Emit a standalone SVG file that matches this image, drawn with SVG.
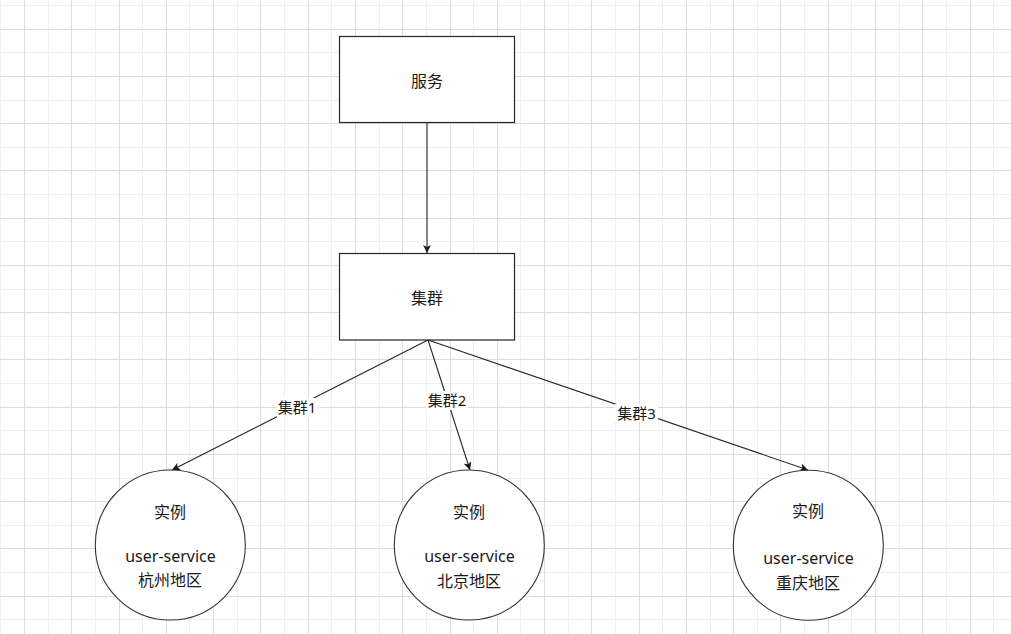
<svg xmlns="http://www.w3.org/2000/svg" width="1011" height="634" viewBox="0 0 1011 634">
<style>
.gl{stroke:#efefef;stroke-width:1;fill:none}
.gd{stroke:#dcdcdc;stroke-width:1;fill:none}
.box{fill:#fff;stroke:#262626;stroke-width:1.2}
.circ{fill:#fff;stroke:#333;stroke-width:1.1}
.t{font-family:"Noto Sans","Noto Sans CJK SC",sans-serif;font-size:16px;fill:#1a1a1a;text-anchor:middle}
.lbl{font-family:"Noto Sans","Noto Sans CJK SC",sans-serif;font-size:15px;fill:#1a1a1a;text-anchor:middle}
.edge{stroke:#262626;stroke-width:1.1;fill:none}
.lblbg{fill:#fff}
</style>
<defs>
<marker id="arr" viewBox="0 0 10 10" refX="10" refY="5" markerWidth="8" markerHeight="8" markerUnits="userSpaceOnUse" orient="auto" preserveAspectRatio="none">
<path d="M0,0 L10,5 L0,10 L2.5,5 z" fill="#1a1a1a"/>
</marker>
</defs>
<rect width="1011" height="634" fill="#fff"/>
<g id="grid" shape-rendering="crispEdges">
<path class="gl" d="M0.5,0v634M48.5,0v634M95.5,0v634M142.5,0v634M189.5,0v634M237.5,0v634M284.5,0v634M331.5,0v634M379.5,0v634M426.5,0v634M473.5,0v634M520.5,0v634M568.5,0v634M615.5,0v634M662.5,0v634M710.5,0v634M757.5,0v634M804.5,0v634M851.5,0v634M899.5,0v634M946.5,0v634M993.5,0v634M0,5.5h1011M0,52.5h1011M0,100.5h1011M0,147.5h1011M0,194.5h1011M0,241.5h1011M0,289.5h1011M0,336.5h1011M0,383.5h1011M0,430.5h1011M0,478.5h1011M0,525.5h1011M0,572.5h1011M0,619.5h1011"/>
<path class="gd" d="M24.5,0v634M71.5,0v634M119.5,0v634M166.5,0v634M213.5,0v634M260.5,0v634M308.5,0v634M355.5,0v634M402.5,0v634M450.5,0v634M497.5,0v634M544.5,0v634M591.5,0v634M639.5,0v634M686.5,0v634M733.5,0v634M780.5,0v634M828.5,0v634M875.5,0v634M922.5,0v634M970.5,0v634M0,29.5h1011M0,76.5h1011M0,123.5h1011M0,170.5h1011M0,218.5h1011M0,265.5h1011M0,312.5h1011M0,359.5h1011M0,407.5h1011M0,454.5h1011M0,501.5h1011M0,548.5h1011M0,596.5h1011"/>
</g>
<g id="connectors">
<path class="edge" d="M427,123 L427,253" marker-end="url(#arr)"/>
<path class="edge" d="M428,340 L172,470" marker-end="url(#arr)"/>
<path class="edge" d="M428,340 L470,470" marker-end="url(#arr)"/>
<path class="edge" d="M428,340 L808,470" marker-end="url(#arr)"/>
<rect class="lblbg" x="277" y="398" width="42" height="19"/>
<text class="lbl" x="297" y="412.5">集群1</text>
<rect class="lblbg" x="426" y="391" width="42" height="19"/>
<text class="lbl" x="447" y="405.5">集群2</text>
<rect class="lblbg" x="615" y="404" width="43" height="18"/>
<text class="lbl" x="636.5" y="418.5">集群3</text>
</g>
<g id="node-service">
<rect class="box" x="339.5" y="36.5" width="175" height="86"/>
<text class="t" x="427" y="87">服务</text>
</g>
<g id="node-cluster">
<rect class="box" x="339.5" y="253.5" width="175" height="86.5"/>
<text class="t" x="427" y="304">集群</text>
</g>
<g id="node-hangzhou">
<circle class="circ" cx="170.3" cy="545" r="75"/>
<text class="t" x="170" y="518">实例</text>
<text class="t" x="170.5" y="562">user-service</text>
<text class="t" x="170" y="586">杭州地区</text>
</g>
<g id="node-beijing">
<circle class="circ" cx="469.3" cy="545" r="75"/>
<text class="t" x="469" y="518">实例</text>
<text class="t" x="469.5" y="562">user-service</text>
<text class="t" x="469" y="586.5">北京地区</text>
</g>
<g id="node-chongqing">
<circle class="circ" cx="808.3" cy="545.3" r="75"/>
<text class="t" x="808" y="517">实例</text>
<text class="t" x="808.5" y="564">user-service</text>
<text class="t" x="808" y="589">重庆地区</text>
</g>
</svg>
